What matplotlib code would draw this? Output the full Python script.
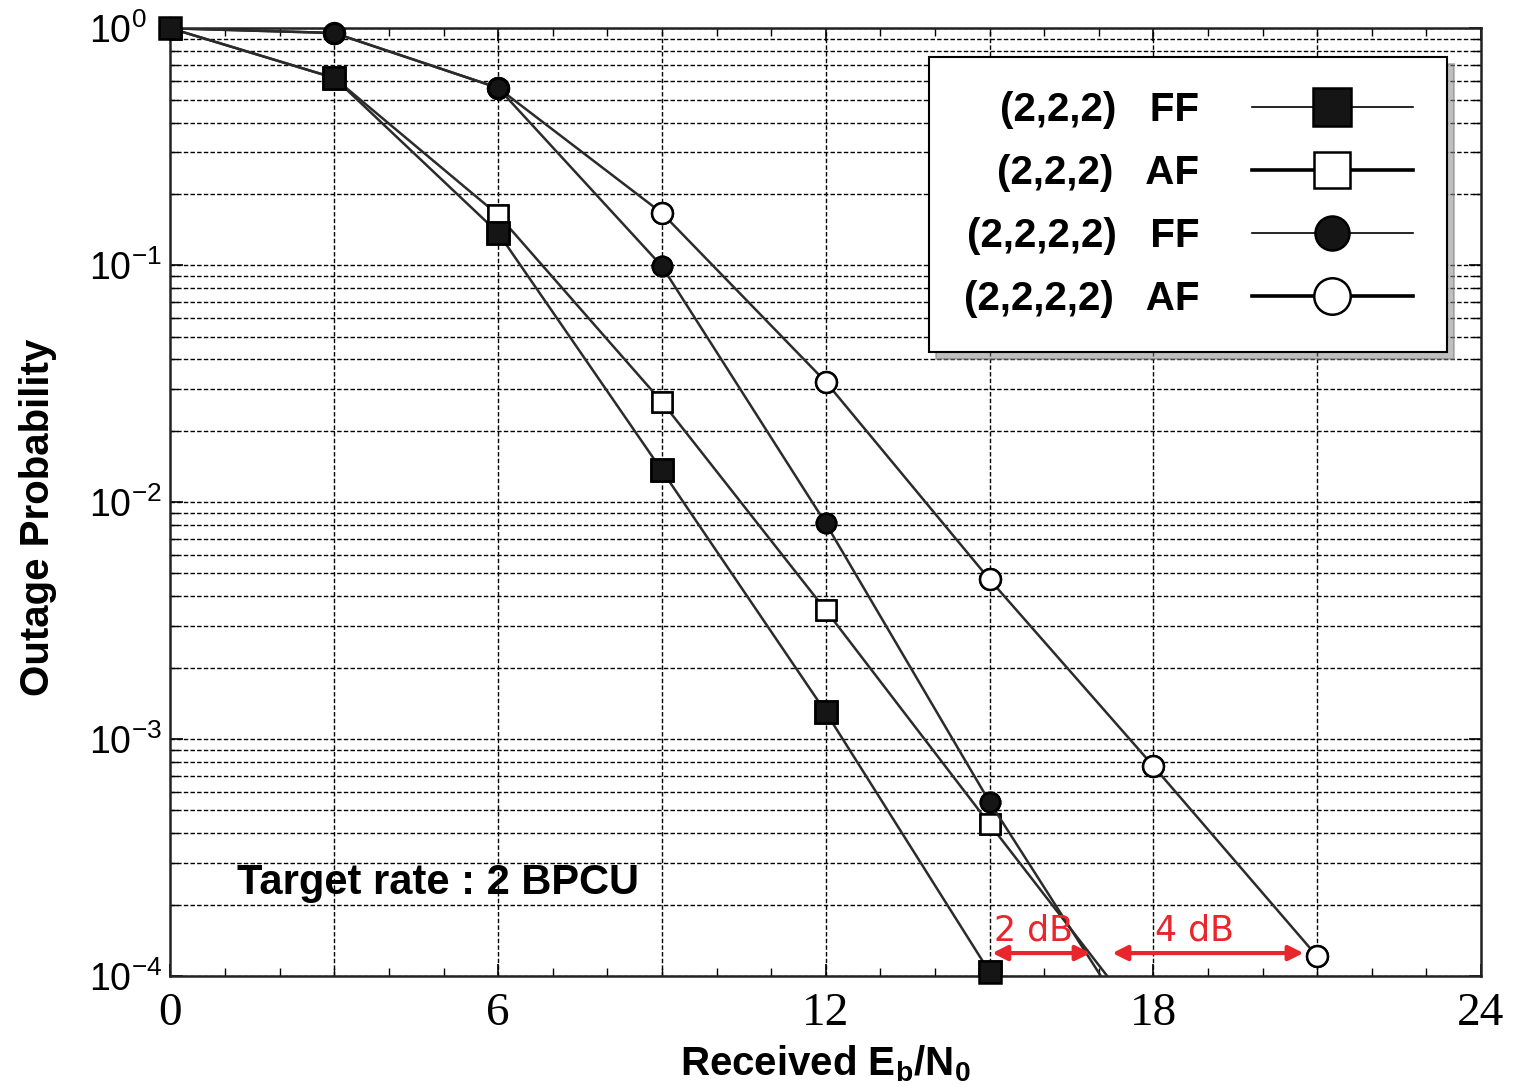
import numpy as np
import matplotlib
matplotlib.use('Agg')
import matplotlib.pyplot as plt
from matplotlib.ticker import FixedLocator, LogLocator, NullFormatter

plt.rcParams['font.family'] = ['Liberation Sans', 'DejaVu Sans']
plt.rcParams['mathtext.fontset'] = 'custom'
plt.rcParams['mathtext.rm'] = 'Liberation Sans'
plt.rcParams['mathtext.bf'] = 'Liberation Sans:bold'

# ---- data ----
snr_db = [0, 3, 6, 9, 12, 15, 18, 21]

ff_222 = [1.0, 0.617, 0.137, 0.0136, 0.0013, 1.04e-4]
af_222 = [1.0, 0.617, 0.163, 0.0265, 0.0035, 4.38e-4, 5.6e-5]
ff_2222 = [1.0, 0.955, 0.56, 0.099, 0.00814, 5.43e-4, 4.5e-5]
af_2222 = [1.0, 0.955, 0.56, 0.166, 0.0322, 0.00472, 7.69e-4, 1.21e-4]

labels = ['(2,2,2)   FF', '(2,2,2)   AF', '(2,2,2,2)   FF', '(2,2,2,2)   AF']

# gap annotations
gap_texts = ['2 dB', '4 dB']
gap_text_x = [15.8, 18.75]
gap_from = [15.05, 17.25]
gap_to = [16.85, 20.75]
gap_y = 1.25e-4
gap_text_y = 1.56e-4

line_col = '#2b2b2b'
fill_col = '#151515'
red = '#e8262b'
grid_ls = (0, (3.2, 1.6))

fig = plt.figure(figsize=(15.14, 10.87), dpi=100)
ax = fig.add_axes([0.1126, 0.1021, 0.8656, 0.8719])

series = [
    (ff_222, 's', fill_col, 16, 6),
    (af_222, 's', 'white', 14.5, 4),
    (ff_2222, 'o', fill_col, 14, 5),
    (af_2222, 'o', 'white', 15, 3),
]

handles = []
for (vals, mk, fc, ms, z), lab in zip(series, labels):
    x = np.array(snr_db[:len(vals)], dtype=float)
    y = np.array(vals)
    h, = ax.plot(x, y, color=line_col, lw=1.8, marker=mk, ms=ms,
                 mfc=fc, mec='black', mew=1.8, zorder=z, label=lab,
                 markevery=list(np.where(y >= 1e-4)[0]))
    handles.append(h)
    vis = y >= 1e-4
    ax.plot(x[vis], y[vis], ls='none', marker=mk, ms=ms, mfc=fc,
            mec='black', mew=1.8, zorder=z, clip_on=False)

ax.set_yscale('log')
ax.set_xlim(0, 24)
ax.set_ylim(1e-4, 1)

ax.set_xticks([0, 6, 12, 18, 24])
ax.xaxis.set_minor_locator(FixedLocator(np.arange(0, 25, 1)))
ax.yaxis.set_minor_locator(LogLocator(base=10, subs=np.arange(2, 10)))
ax.yaxis.set_minor_formatter(NullFormatter())

for lab in ax.get_xticklabels():
    lab.set_family('Liberation Serif')
ax.tick_params(axis='x', which='major', labelsize=34, pad=12)
ax.tick_params(axis='y', which='major', labelsize=27, pad=59)
for lab in ax.get_yticklabels():
    lab.set_horizontalalignment('left')
ax.tick_params(which='both', direction='in', top=True, right=True,
               color='black')
ax.tick_params(which='major', length=9, width=1.2)
ax.tick_params(which='minor', length=6, width=1.0)

# grid: vertical every 3 dB, horizontal on log ticks
for xv in np.arange(3, 24, 3):
    ax.axvline(xv, color='black', lw=1.0, ls=grid_ls, zorder=1)
ax.grid(True, axis='y', which='both', color='black', lw=1.0, ls=grid_ls, zorder=1)
ax.set_axisbelow(True)

for sp in ax.spines.values():
    sp.set_linewidth(1.8)
    sp.set_color('#222222')

ax.set_xlabel(r'Received E$_\mathbf{b}$/N$_\mathbf{0}$', fontsize=29,
              fontweight='bold', labelpad=6)
ax.set_ylabel('Outage Probability', fontsize=29, fontweight='bold')
ax.yaxis.set_label_coords(-0.0866, 0.484)

ax.text(1.22, 2.47e-4, 'Target rate : 2 BPCU', fontsize=30, fontweight='bold',
        ha='left', va='center', zorder=7)

for t, tx, x0, x1 in zip(gap_texts, gap_text_x, gap_from, gap_to):
    ax.annotate('', xy=(x1, gap_y), xytext=(x0, gap_y),
                arrowprops=dict(arrowstyle='<|-|>', color=red, lw=3,
                                mutation_scale=22, shrinkA=0, shrinkB=0),
                zorder=8)
    ax.text(tx, gap_text_y, t, color=red, fontsize=25,
            family='DejaVu Sans', ha='center', va='center', zorder=8)

leg = ax.legend(handles=handles, loc='upper right', bbox_to_anchor=(0.974, 0.970),
                borderaxespad=0, markerfirst=False,
                prop={'weight': 'bold', 'size': 29}, markerscale=1.75,
                handlelength=4.0, handletextpad=1.3, labelspacing=0.62,
                borderpad=0.85, fancybox=False, framealpha=1,
                edgecolor='black',
                shadow={'ox': 5, 'oy': -5, 'color': '0.5', 'alpha': 0.5})
leg.get_frame().set_linewidth(1.5)
leg.set_zorder(10)
for ln, w in zip(leg.get_lines(), [1.2, 2.6, 1.2, 2.6]):
    ln.set_linewidth(w)
    ln.set_color('black')

fig.savefig('out.png', dpi=100)
